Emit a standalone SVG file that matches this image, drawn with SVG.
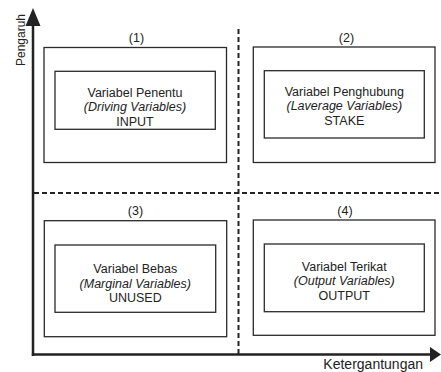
<svg xmlns="http://www.w3.org/2000/svg" width="441" height="372" viewBox="0 0 441 372">
  <style>
    .box{fill:none;stroke:#2a2a2a;stroke-width:1.3}
    .t{font-family:"Liberation Sans",Arial,sans-serif;font-size:12.5px;fill:#222;text-anchor:middle}
    .i{font-style:italic}
    .dash{stroke:#222;stroke-width:2;stroke-dasharray:5 3;fill:none}
    .axis{stroke:#222;stroke-width:2.5;fill:none}
  </style>
  <g id="connectors">
    <line class="dash" x1="238.5" y1="29" x2="238.5" y2="357"/>
    <line class="dash" x1="34" y1="193" x2="440" y2="193"/>
    <line class="axis" x1="33" y1="356" x2="33" y2="22"/>
    <polygon points="33,8 25.5,26 40.5,26" fill="#222"/>
    <line class="axis" x1="31.8" y1="354.5" x2="431" y2="354.5"/>
    <polygon points="441,354.5 430,347 430,362" fill="#222"/>
    <text class="t" x="24.5" y="40" transform="rotate(-90 24.5 40)" style="font-size:12px">Pengaruh</text>
    <text class="t" x="423" y="369" style="text-anchor:end;font-size:14px">Ketergantungan</text>
  </g>
  <g id="q1">
    <text class="t" x="136.5" y="41.5">(1)</text>
    <rect class="box" x="44" y="47.5" width="182.5" height="115"/>
    <rect class="box" x="55" y="71.3" width="160.3" height="58"/>
    <text class="t" x="135" y="96.5">Variabel Penentu</text>
    <text class="t i" x="135" y="111">(Driving Variables)</text>
    <text class="t" x="135" y="125.7">INPUT</text>
  </g>
  <g id="q2">
    <text class="t" x="346.5" y="41.5">(2)</text>
    <rect class="box" x="253.3" y="47" width="181.7" height="115.5"/>
    <rect class="box" x="264.3" y="70.7" width="160" height="67.3"/>
    <text class="t" x="344.3" y="95.5">Variabel Penghubung</text>
    <text class="t i" x="344.3" y="110">(Laverage Variables)</text>
    <text class="t" x="344.3" y="125">STAKE</text>
  </g>
  <g id="q3">
    <text class="t" x="135.5" y="214.5">(3)</text>
    <rect class="box" x="44.3" y="220.7" width="182.4" height="116"/>
    <rect class="box" x="55" y="245" width="160.7" height="67.3"/>
    <text class="t" x="135.3" y="273">Variabel Bebas</text>
    <text class="t i" x="135.3" y="287.5">(Marginal Variables)</text>
    <text class="t" x="135.3" y="302">UNUSED</text>
  </g>
  <g id="q4">
    <text class="t" x="345" y="214.5">(4)</text>
    <rect class="box" x="253.3" y="220" width="181.7" height="115.3"/>
    <rect class="box" x="264.3" y="244" width="160" height="67.7"/>
    <text class="t" x="344.3" y="270.5">Variabel Terikat</text>
    <text class="t i" x="344.3" y="285">(Output Variables)</text>
    <text class="t" x="344.3" y="299.5">OUTPUT</text>
  </g>
</svg>
